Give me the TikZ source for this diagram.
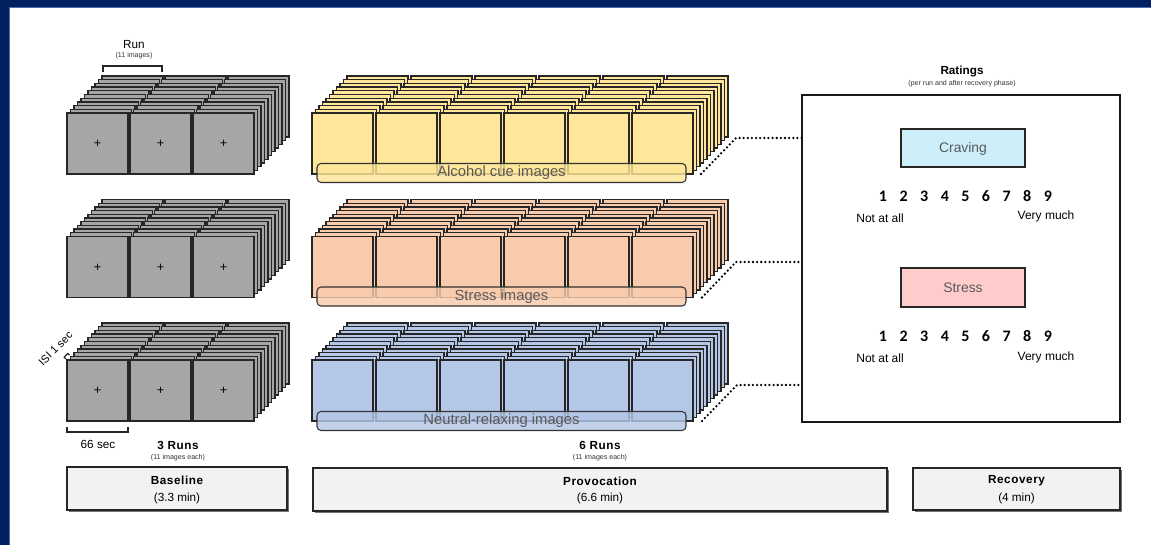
\documentclass[tikz,border=0pt]{standalone}
\usepackage{fontspec}
\setmainfont{Liberation Sans}
\newfontfamily\digitfont{Carlito}
\newfontfamily\spacedbold[LetterSpace=5]{Liberation Sans Bold}

\definecolor{navy}{HTML}{002060}
\definecolor{navyedge}{HTML}{4A6CB0}
\definecolor{cardgrey}{HTML}{A6A6A6}
\definecolor{cueyellow}{HTML}{FFE699}
\definecolor{stressorange}{HTML}{F8CBAD}
\definecolor{neutralblue}{HTML}{B4C7E7}
\definecolor{cravingcyan}{HTML}{CCEFF9}
\definecolor{stresspink}{HTML}{FFCCCC}
\definecolor{phasegrey}{HTML}{F2F2F2}
\definecolor{labeltext}{HTML}{595959}

% one stack of cards: x of first front card, y of front top, columns, column pitch, fill
\newcommand{\cardstack}[5]{%
  \foreach \k in {10,9,...,0}{%
    \foreach \c in {1,...,#3}{%
      \draw[card, fill=#5] ({#1+(\c-1)*#4+3.5*\k}, {#2-3.7*\k}) rectangle ++(61,61);
    }%
  }%
}

\tikzset{
  card/.style={draw=black!85, line width=0.95pt},
  labelbar/.style={draw=black!80, line width=0.8pt, rounded corners=3pt, fill opacity=0.82},
  bartext/.style={font=\fontsize{11.1}{13}\selectfont, text=labeltext},
  smalltext/.style={font=\fontsize{8.8}{10}\selectfont},
  boldtext/.style={font=\spacedbold\fontsize{8.8}{10}\selectfont},
  tinytext/.style={font=\fontsize{5.3}{6}\selectfont, text=black!80},
  phasebox/.style={draw=black!85, line width=0.9pt, fill=phasegrey},
  phaseshadow/.style={fill=black!55},
  scalebox/.style={draw=black!85, line width=1.3pt},
  scaletext/.style={font=\fontsize{10.4}{12}\selectfont, text=labeltext},
  digit/.style={font=\digitfont\bfseries\fontsize{12}{14}\selectfont},
  anchortext/.style={font=\fontsize{9}{11}\selectfont},
  bracketline/.style={draw=black!85, line width=0.9pt},
  dotlink/.style={line width=1.9pt, dash pattern=on 0pt off 3.1pt, line cap=round},
}

\begin{document}
\begin{tikzpicture}[x=0.75pt, y=-0.75pt]
\useasboundingbox (0,0) rectangle (1151,545);
\fill[white] (0,0) rectangle (1151,545);

% frame band along the top and left
\fill[navy] (0,0) rectangle (1151,7);
\fill[navy] (0,0) rectangle (9,545);
\draw[navyedge, line width=0.6pt] (9,545) -- (9,7) -- (1151,7);

% ---------------- baseline stacks ----------------
\foreach \r/\yt in {1/113, 2/236.5, 3/360}{
  \cardstack{67}{\yt}{3}{63}{cardgrey}
  \foreach \c in {1,2,3}{
    \node[font=\fontsize{9.5}{10}\selectfont] (plus-\r-\c) at ({67+(\c-1)*63+30.5}, {\yt+31}) {+};
  }
}

% run bracket
\node[smalltext] (runlabel) at (134,45) {Run};
\node[tinytext] (runcount) at (134,55.5) {(11 images)};
\draw[bracketline] (103,72) -- (103,66) -- (162,66) -- (162,72);

% inter-stimulus interval bracket
\draw[bracketline] (66,358.9) -- (64.2,357.2) -- (67.7,353.5) -- (69.4,355.2);
\node[rotate=45, font=\fontsize{8.2}{10}\selectfont, inner sep=1pt] (isi) at (55.5,348.5) {ISI 1 sec};

% single run duration
\draw[bracketline] (67,427) -- (67,432) -- (128,432) -- (128,427);
\node[smalltext] (dur) at (98,444) {66 sec};

\node[boldtext] (runs3) at (178,445) {3 Runs};
\node[tinytext] (each3) at (178,458) {(11 images each)};

% ---------------- provocation stacks ----------------
\cardstack{312}{113}{6}{64}{cueyellow}
\draw[labelbar, fill=cueyellow] (317,163.5) rectangle (686,182.5);
\node[bartext] (cue) at (501.5,173) {Alcohol cue images};

\cardstack{312}{236.5}{6}{64}{stressorange}
\draw[labelbar, fill=stressorange] (317,287) rectangle (686,306);
\node[bartext] (stressimg) at (501.5,296.5) {Stress images};

\cardstack{312}{360}{6}{64}{neutralblue}
\draw[labelbar, fill=neutralblue] (317,411.5) rectangle (686,430.5);
\node[bartext] (neutral) at (501.5,421) {Neutral-relaxing images};

\node[boldtext] (runs6) at (600,445) {6 Runs};
\node[tinytext] (each6) at (600,458) {(11 images each)};

% ---------------- ratings ----------------
\node[font=\bfseries\fontsize{8.8}{10}\selectfont] (ratings) at (962,71) {Ratings};
\node[tinytext] (ratingsnote) at (962,84) {(per run and after recovery phase)};

\coordinate (rbnw) at (802,95);
\coordinate (rbse) at (1120,422);
\draw[line width=1.5pt, draw=black!90] (rbnw) rectangle (rbse);

\draw[scalebox, fill=cravingcyan] (901,129) rectangle (1025,167);
\node[scaletext] (craving) at (963,149) {Craving};
\foreach \n in {1,...,9}{
  \node[digit] (cdig-\n) at ({883+(\n-1)*20.6}, 196) {\n};
}
\node[anchortext] (cnot) at (880,218) {Not at all};
\node[anchortext] (cvery) at (1046,216) {Very much};

\draw[scalebox, fill=stresspink] (901,268) rectangle (1025,307);
\node[scaletext] (stress) at (963,288) {Stress};
\foreach \n in {1,...,9}{
  \node[digit] (sdig-\n) at ({883+(\n-1)*20.6}, 336) {\n};
}
\node[anchortext] (snot) at (880,358) {Not at all};
\node[anchortext] (svery) at (1046,357) {Very much};

% dotted links from each provocation stack to the ratings
\coordinate (d1) at (701,174);  \coordinate (e1) at (736,138);
\coordinate (d2) at (702,297.5);\coordinate (e2) at (736,262);
\coordinate (d3) at (702,421);  \coordinate (e3) at (737,385);
\draw[dotlink] (d1) -- (e1) -- (e1 -| rbnw);
\draw[dotlink] (d2) -- (e2) -- (e2 -| rbnw);
\draw[dotlink] (d3) -- (e3) -- (e3 -| rbnw);

% ---------------- phase boxes ----------------
\fill[phaseshadow] (68.5,468.5) rectangle (288.5,511.5);
\draw[phasebox] (67,467) rectangle (287,510);
\node[boldtext] (baseline) at (177,480) {Baseline};
\node[smalltext] (basetime) at (177,498) {(3.3 min)};

\fill[phaseshadow] (314.5,469.5) rectangle (888.5,512.5);
\draw[phasebox] (313,468) rectangle (887,511);
\node[boldtext] (provocation) at (600,481) {Provocation};
\node[smalltext] (provtime) at (600,498) {(6.6 min)};

\fill[phaseshadow] (914.5,469.5) rectangle (1121.5,511.5);
\draw[phasebox] (913,468) rectangle (1120,510);
\node[boldtext] (recovery) at (1016.5,481) {Recovery};
\node[smalltext] (rectime) at (1016.5,498) {(4 min)};
\end{tikzpicture}
\end{document}
